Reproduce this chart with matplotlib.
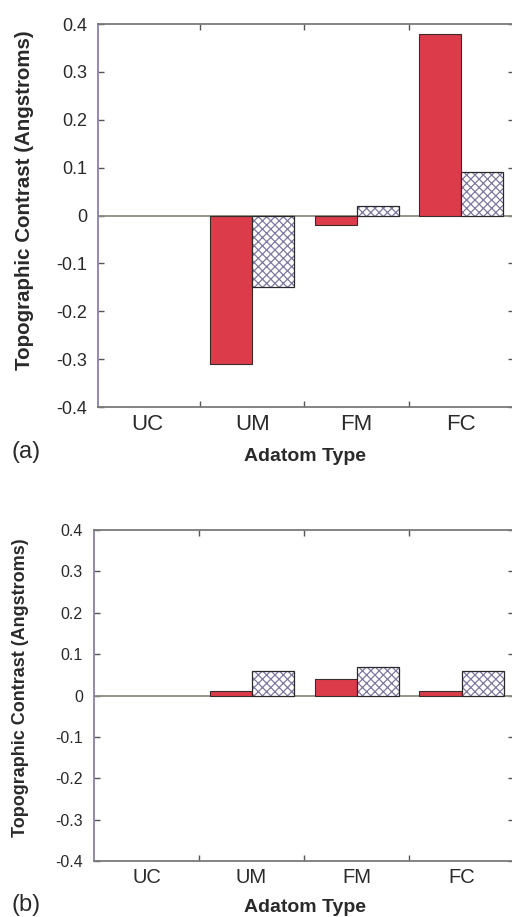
import matplotlib
matplotlib.use("Agg")
import matplotlib.pyplot as plt
import numpy as np

categories = ["UC", "UM", "FM", "FC"]
# panel (a)
a_solid = [0.0, -0.31, -0.02, 0.38]
a_hatch = [0.0, -0.15, 0.02, 0.09]
# panel (b)
b_solid = [0.0, 0.01, 0.04, 0.01]
b_hatch = [0.0, 0.06, 0.07, 0.06]
yticks = [-0.4, -0.3, -0.2, -0.1, 0.0, 0.1, 0.2, 0.3, 0.4]
ytick_labels = ["-0.4", "-0.3", "-0.2", "-0.1", "0", "0.1", "0.2", "0.3", "0.4"]

plt.rcParams['font.family'] = ['Liberation Sans', 'DejaVu Sans']
plt.rcParams['hatch.linewidth'] = 0.9

RED = "#dc3c4a"
HATCH_C = "#8078a0"
TEXT_C = "#2a2a2a"
SPINE_C = "#7a7a7a"

W, H = 512, 917
fig = plt.figure(figsize=(W / 100, H / 100), dpi=100)


def panel(rect, solid, hatch, xlim, tick_fs, cat_fs, ylab_fs, xlab_fs, letter,
          ylab_x, ylab_y, letter_y, xlab_y):
    ax = fig.add_axes(rect)
    x = np.arange(len(categories))
    w = 0.4
    solid = np.array(solid)
    hatch = np.array(hatch)
    ms = solid != 0
    mh = hatch != 0
    ax.bar((x - w / 2)[ms], solid[ms], w, color=RED, edgecolor="#3a2a2a", linewidth=0.8, zorder=3)
    ax.bar((x + w / 2)[mh], hatch[mh], w, color="white", edgecolor=HATCH_C, hatch="xxxx",
           linewidth=0, zorder=3)
    ax.bar((x + w / 2)[mh], hatch[mh], w, color="none", edgecolor="#2a2a2a", linewidth=0.9, zorder=4)
    ax.axhline(0, color="#8c8c80", lw=1.3, zorder=2)
    ax.set_xlim(*xlim)
    ax.set_ylim(-0.4, 0.4)
    ax.set_yticks(yticks)
    ax.set_yticklabels(ytick_labels, fontsize=tick_fs, color=TEXT_C)
    ax.set_xticks(x[:-1] + 0.5)
    ax.set_xticklabels([])
    ax.set_xticks(x, minor=True)
    ax.set_xticklabels(categories, minor=True, fontsize=cat_fs, color=TEXT_C)
    ax.tick_params(axis="x", which="minor", length=0, pad=5)
    ax.tick_params(axis="both", which="major", direction="in", length=4, width=1.0,
                   color="#555555", top=True, right=True)
    ax.tick_params(axis="y", pad=8)
    for s in ax.spines.values():
        s.set_color(SPINE_C)
        s.set_linewidth(1.3)
    ax.spines["left"].set_color("#8a80a8")
    fig.text(ylab_x, ylab_y, "Topographic Contrast (Angstroms)", rotation=90,
             ha="center", va="center", fontsize=ylab_fs, fontweight="bold", color=TEXT_C)
    fig.text(0.022, letter_y, letter, ha="left", va="center", fontsize=17, color=TEXT_C)
    fig.text(305 / W, xlab_y, "Adatom Type",
             ha="center", va="center", fontsize=xlab_fs, fontweight="bold", color=TEXT_C)
    return ax


# top panel
panel([98 / W, 1 - 407 / H, (513.5 - 98) / W, (407 - 24) / H], a_solid, a_hatch,
      (-0.476, 3.5), 13, 16, 14.8, 14, "(a)", 25 / W, 1 - 200 / H, 1 - 452 / H, 1 - 456 / H)
# bottom panel
panel([94 / W, 1 - 861 / H, (514 - 94) / W, (861 - 530) / H], b_solid, b_hatch,
      (-0.5, 3.5), 11.5, 14.5, 13, 14, "(b)", 21 / W, 1 - 688 / H, 1 - 905 / H, 1 - 907 / H)

fig.savefig("out.png", dpi=100, facecolor="white")
